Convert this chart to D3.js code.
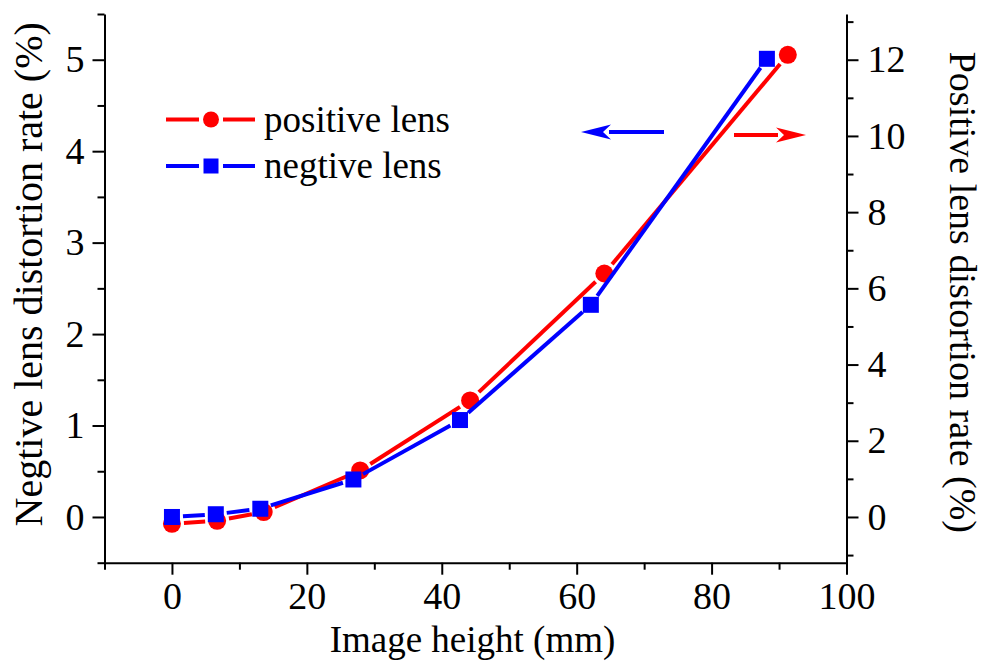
<!DOCTYPE html>
<html>
<head>
<meta charset="utf-8">
<script src="https://cdn.jsdelivr.net/npm/d3@7"></script>
<style>
  html, body { margin: 0; padding: 0; background: #fff; }
  #chart text { font-family: "Liberation Serif" !important; }
</style>
</head>
<body>
<svg id="chart" width="987" height="664" font-family="Liberation Serif"></svg>
<script>
// Image height (mm) and distortion rate (%) for each lens type
const positiveX = [0, 6.7, 13.6, 27.9, 44.2, 64.1, 91.3];
const positiveY = [-0.18, -0.10, 0.13, 1.22, 3.06, 6.39, 12.13];   // right axis
const negativeX = [0, 6.5, 13.1, 26.9, 42.7, 62.1, 88.2];
const negativeY = [0.00, 0.03, 0.09, 0.41, 1.06, 2.32, 5.01];       // left axis

const xTicks = [0, 20, 40, 60, 80, 100];
const xMinorTicks = [-10, 10, 30, 50, 70, 90];
const leftTicks = [0, 1, 2, 3, 4, 5];
const leftMinorTicks = [-0.5, 0.5, 1.5, 2.5, 3.5, 4.5, 5.5];
const rightTicks = [0, 2, 4, 6, 8, 10, 12];
const rightMinorTicks = [-1, 1, 3, 5, 7, 9, 11, 13];

const seriesNames = ["positive lens", "negtive lens"];
const xTitle = "Image height (mm)";
const leftTitle = "Negtive lens distortion rate (%)";
const rightTitle = "Positive lens distortion rate (%)";

const RED = "#ff0000", BLUE = "#0000ff";

const svg = d3.select("#chart");
const W = 987, H = 664;
const m = { left: 104.5, right: W - 846.5, top: 14, bottom: H - 562.7 };

const x = d3.scaleLinear().domain([-10, 100]).range([m.left, W - m.right]);
const yL = d3.scaleLinear().domain([-0.5, 5.5]).range([H - m.bottom, m.top]);
const yR = d3.scaleLinear().domain([-1.2, 13.2]).range([H - m.bottom, m.top]);

const MAJOR = 12, MINOR = 7, FS = 38;

function styleAxis(g) {
  g.attr("font-family", "Liberation Serif").attr("font-size", FS);
  g.selectAll("g").attr("font-family", "Liberation Serif").attr("font-size", FS);
  g.selectAll("path.domain").attr("stroke", "#000").attr("stroke-width", 2);
  g.selectAll(".tick line").attr("stroke", "#000").attr("stroke-width", 2);
  g.selectAll(".tick text").attr("fill", "#000");
}

// Bottom axis
const gx = svg.append("g").attr("transform", `translate(0,${H - m.bottom})`);
gx.call(d3.axisBottom(x).tickValues(xMinorTicks).tickSize(MINOR).tickSizeOuter(0).tickFormat(""));
gx.append("g").call(d3.axisBottom(x).tickValues(xTicks).tickSize(MAJOR).tickSizeOuter(0).tickPadding(7).tickFormat(d3.format("d")))
  .call(g => g.select(".domain").remove());
styleAxis(gx);

// Left axis
const gl = svg.append("g").attr("transform", `translate(${m.left},0)`);
gl.call(d3.axisLeft(yL).tickValues(leftMinorTicks).tickSize(MINOR).tickSizeOuter(0).tickFormat(""));
gl.append("g").call(d3.axisLeft(yL).tickValues(leftTicks).tickSize(MAJOR).tickSizeOuter(0).tickPadding(8).tickFormat(d3.format("d")))
  .call(g => g.select(".domain").remove());
styleAxis(gl);

// Right axis
const gr = svg.append("g").attr("transform", `translate(${W - m.right},0)`);
gr.call(d3.axisRight(yR).tickValues(rightMinorTicks.filter(v => v <= 13.2)).tickSize(MINOR).tickSizeOuter(0).tickFormat(""));
gr.append("g").call(d3.axisRight(yR).tickValues(rightTicks).tickSize(MAJOR).tickSizeOuter(0).tickPadding(9).tickFormat(d3.format("d")))
  .call(g => g.select(".domain").remove());
styleAxis(gr);

function label(sel, size) {
  return sel.attr("font-family", "Liberation Serif").attr("font-size", size).attr("fill", "#000");
}

// Axis titles
label(svg.append("text").attr("x", (x(-10) + x(100)) / 2 - 3).attr("y", 652)
  .attr("text-anchor", "middle"), 37).text(xTitle);
label(svg.append("text").attr("transform", `translate(42,${(yL(-0.5) + yL(5.5)) / 2 - 14}) rotate(-90)`)
  .attr("text-anchor", "middle"), 40).text(leftTitle);
label(svg.append("text").attr("transform", `translate(950,${(yR(-1.2) + yR(13.2)) / 2 + 4}) rotate(90)`)
  .attr("text-anchor", "middle"), 38).text(rightTitle);

// Line segments stop short of each marker, leaving a small white gap
function gappedSegments(pts, gap) {
  const segs = [];
  for (let i = 0; i < pts.length - 1; i++) {
    const [x1, y1] = pts[i], [x2, y2] = pts[i + 1];
    const len = Math.hypot(x2 - x1, y2 - y1);
    if (len <= 2 * gap) continue;
    const ux = (x2 - x1) / len, uy = (y2 - y1) / len;
    segs.push([x1 + ux * gap, y1 + uy * gap, x2 - ux * gap, y2 - uy * gap]);
  }
  return segs;
}

const posPts = positiveX.map((v, i) => [x(v), yR(positiveY[i])]);
const negPts = negativeX.map((v, i) => [x(v), yL(negativeY[i])]);

const plot = svg.append("g");

// positive lens (red circles, right axis)
plot.append("g").selectAll("line").data(gappedSegments(posPts, 12)).join("line")
  .attr("x1", d => d[0]).attr("y1", d => d[1]).attr("x2", d => d[2]).attr("y2", d => d[3])
  .attr("stroke", RED).attr("stroke-width", 4);
plot.append("g").selectAll("circle").data(posPts).join("circle")
  .attr("cx", d => d[0]).attr("cy", d => d[1]).attr("r", 9).attr("fill", RED);

// negative lens (blue squares, left axis)
plot.append("g").selectAll("line").data(gappedSegments(negPts, 11)).join("line")
  .attr("x1", d => d[0]).attr("y1", d => d[1]).attr("x2", d => d[2]).attr("y2", d => d[3])
  .attr("stroke", BLUE).attr("stroke-width", 4);
plot.append("g").selectAll("rect").data(negPts).join("rect")
  .attr("x", d => d[0] - 8).attr("y", d => d[1] - 8).attr("width", 16).attr("height", 16).attr("fill", BLUE);

// Legend
const legend = svg.append("g");
const legendRows = [
  { name: seriesNames[0], color: RED, shape: "circle", y: 119.5 },
  { name: seriesNames[1], color: BLUE, shape: "square", y: 166 }
];
legendRows.forEach(r => {
  legend.append("line").attr("x1", 166).attr("x2", 199).attr("y1", r.y).attr("y2", r.y)
    .attr("stroke", r.color).attr("stroke-width", 4);
  legend.append("line").attr("x1", 223).attr("x2", 255).attr("y1", r.y).attr("y2", r.y)
    .attr("stroke", r.color).attr("stroke-width", 4);
  if (r.shape === "circle") {
    legend.append("circle").attr("cx", 211).attr("cy", r.y).attr("r", 8).attr("fill", r.color);
  } else {
    legend.append("rect").attr("x", 203.5).attr("y", r.y - 7.5).attr("width", 15).attr("height", 15).attr("fill", r.color);
  }
  label(legend.append("text").attr("x", 264).attr("y", r.y + 12), 37).text(r.name);
});

// Arrows pointing to each series' axis
function arrow(xFrom, xTo, yy, color) {
  const dir = Math.sign(xTo - xFrom);
  const headLen = 30, headHalf = 7.5;
  const base = xTo - dir * headLen;
  svg.append("line").attr("x1", xFrom).attr("x2", base + dir * 2).attr("y1", yy).attr("y2", yy)
    .attr("stroke", color).attr("stroke-width", 4);
  svg.append("path")
    .attr("d", `M${xTo},${yy} L${base},${yy - headHalf} L${base + dir * 8},${yy} L${base},${yy + headHalf} Z`)
    .attr("fill", color);
}
arrow(664, 581, 132, BLUE);
arrow(734, 806, 135, RED);
</script>
</body>
</html>
